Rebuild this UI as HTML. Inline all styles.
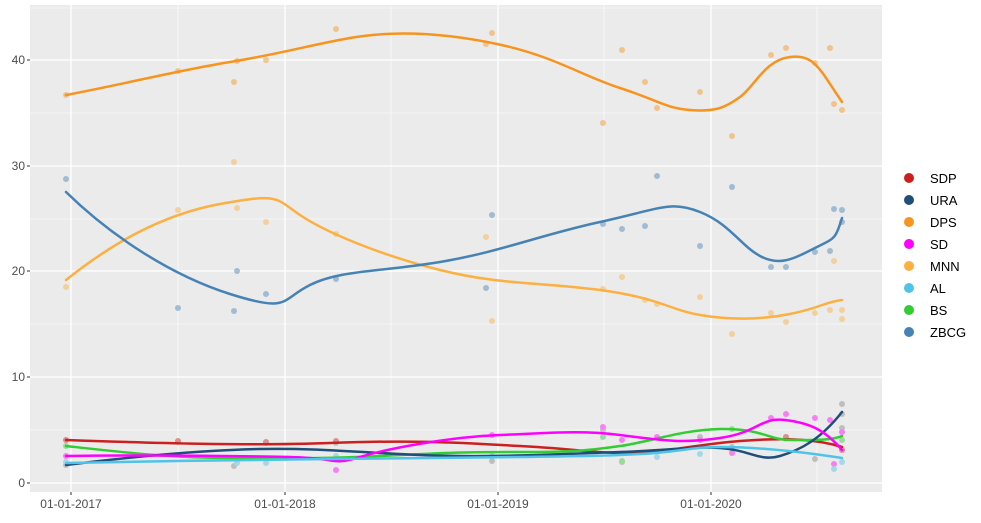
<!DOCTYPE html>
<html><head><style>body{margin:0;background:#fff;font-family:"Liberation Sans",sans-serif}</style></head><body>
<svg width="981" height="518" xmlns="http://www.w3.org/2000/svg" font-family="Liberation Sans, sans-serif">
<rect x="30" y="5" width="852" height="487" fill="#ebebeb"/>
<g stroke="#fff" stroke-width="0.6">
<line x1="30" x2="882" y1="430" y2="430"/><line x1="30" x2="882" y1="324" y2="324"/><line x1="30" x2="882" y1="219" y2="219"/><line x1="30" x2="882" y1="113" y2="113"/><line x1="30" x2="882" y1="8" y2="8"/>
<line y1="5" y2="492" x1="178" x2="178"/><line y1="5" y2="492" x1="391" x2="391"/><line y1="5" y2="492" x1="604" x2="604"/><line y1="5" y2="492" x1="817" x2="817"/>
</g>
<g stroke="#fff" stroke-width="1.3">
<line x1="30" x2="882" y1="483" y2="483"/><line x1="30" x2="882" y1="377" y2="377"/><line x1="30" x2="882" y1="271" y2="271"/><line x1="30" x2="882" y1="166" y2="166"/><line x1="30" x2="882" y1="60" y2="60"/>
<line y1="5" y2="492" x1="71" x2="71"/><line y1="5" y2="492" x1="285" x2="285"/><line y1="5" y2="492" x1="498" x2="498"/><line y1="5" y2="492" x1="711" x2="711"/>
</g>
<g font-size="12" fill="#4d4d4d" text-anchor="end">
<text x="25" y="487">0</text><text x="25" y="381">10</text><text x="25" y="275">20</text><text x="25" y="170">30</text><text x="25" y="64">40</text>
</g>
<g font-size="12" fill="#4d4d4d" text-anchor="middle">
<text x="71" y="508">01-01-2017</text><text x="285" y="508">01-01-2018</text><text x="498" y="508">01-01-2019</text><text x="711" y="508">01-01-2020</text>
</g>
<g stroke="#333" stroke-width="1"><line x1="27" x2="30" y1="483" y2="483"/><line x1="27" x2="30" y1="377" y2="377"/><line x1="27" x2="30" y1="271" y2="271"/><line x1="27" x2="30" y1="166" y2="166"/><line x1="27" x2="30" y1="60" y2="60"/>
<line y1="492" y2="495" x1="71" x2="71"/><line y1="492" y2="495" x1="285" x2="285"/><line y1="492" y2="495" x1="498" x2="498"/><line y1="492" y2="495" x1="711" x2="711"/></g>
<g opacity="0.45">
<g fill="#f7941d"><circle cx="66" cy="95" r="3"/><circle cx="178" cy="71" r="3"/><circle cx="234" cy="82" r="3"/><circle cx="237" cy="61" r="3"/><circle cx="266" cy="60" r="3"/><circle cx="336" cy="29" r="3"/><circle cx="486" cy="44" r="3"/><circle cx="492" cy="33" r="3"/><circle cx="603" cy="123" r="3"/><circle cx="622" cy="50" r="3"/><circle cx="645" cy="82" r="3"/><circle cx="657" cy="108" r="3"/><circle cx="700" cy="92" r="3"/><circle cx="732" cy="136" r="3"/><circle cx="771" cy="55" r="3"/><circle cx="786" cy="48" r="3"/><circle cx="815" cy="63" r="3"/><circle cx="830" cy="48" r="3"/><circle cx="834" cy="104" r="3"/><circle cx="842" cy="110" r="3"/></g>
<g fill="#fbb040"><circle cx="66" cy="287" r="3"/><circle cx="178" cy="210" r="3"/><circle cx="234" cy="162" r="3"/><circle cx="237" cy="208" r="3"/><circle cx="266" cy="222" r="3"/><circle cx="336" cy="234" r="3"/><circle cx="486" cy="237" r="3"/><circle cx="492" cy="321" r="3"/><circle cx="603" cy="289" r="3"/><circle cx="622" cy="277" r="3"/><circle cx="645" cy="300" r="3"/><circle cx="657" cy="304" r="3"/><circle cx="700" cy="297" r="3"/><circle cx="732" cy="334" r="3"/><circle cx="771" cy="313" r="3"/><circle cx="786" cy="322" r="3"/><circle cx="815" cy="313" r="3"/><circle cx="830" cy="310" r="3"/><circle cx="834" cy="261" r="3"/><circle cx="842" cy="310" r="3"/><circle cx="842" cy="319" r="3"/></g>
<g fill="#4682b4"><circle cx="66" cy="179" r="3"/><circle cx="178" cy="308" r="3"/><circle cx="234" cy="311" r="3"/><circle cx="237" cy="271" r="3"/><circle cx="266" cy="294" r="3"/><circle cx="336" cy="279" r="3"/><circle cx="486" cy="288" r="3"/><circle cx="492" cy="215" r="3"/><circle cx="603" cy="224" r="3"/><circle cx="622" cy="229" r="3"/><circle cx="645" cy="226" r="3"/><circle cx="657" cy="176" r="3"/><circle cx="700" cy="246" r="3"/><circle cx="732" cy="187" r="3"/><circle cx="771" cy="267" r="3"/><circle cx="786" cy="267" r="3"/><circle cx="815" cy="252" r="3"/><circle cx="830" cy="251" r="3"/><circle cx="834" cy="209" r="3"/><circle cx="842" cy="222" r="3"/><circle cx="842" cy="210" r="3"/></g>
<g fill="#888"><circle cx="66" cy="440" r="3"/><circle cx="66" cy="465" r="3"/><circle cx="178" cy="442" r="3"/><circle cx="234" cy="466" r="3"/><circle cx="266" cy="443" r="3"/><circle cx="336" cy="443" r="3"/><circle cx="492" cy="461" r="3"/><circle cx="603" cy="430" r="3"/><circle cx="622" cy="462" r="3"/><circle cx="700" cy="437" r="3"/><circle cx="732" cy="447" r="3"/><circle cx="786" cy="437" r="3"/><circle cx="815" cy="459" r="3"/><circle cx="842" cy="404" r="3"/><circle cx="842" cy="414" r="3"/><circle cx="842" cy="428" r="3"/></g>
<g fill="#ff00ff"><circle cx="66" cy="456" r="3"/><circle cx="336" cy="470" r="3"/><circle cx="492" cy="435" r="3"/><circle cx="603" cy="427" r="3"/><circle cx="622" cy="440" r="3"/><circle cx="657" cy="437" r="3"/><circle cx="700" cy="440" r="3"/><circle cx="732" cy="453" r="3"/><circle cx="771" cy="418" r="3"/><circle cx="786" cy="414" r="3"/><circle cx="815" cy="418" r="3"/><circle cx="830" cy="420" r="3"/><circle cx="834" cy="464" r="3"/><circle cx="842" cy="432" r="3"/></g>
<g fill="#4fc3e8"><circle cx="66" cy="462" r="3"/><circle cx="237" cy="463" r="3"/><circle cx="266" cy="463" r="3"/><circle cx="336" cy="456" r="3"/><circle cx="492" cy="456" r="3"/><circle cx="657" cy="457" r="3"/><circle cx="700" cy="454" r="3"/><circle cx="834" cy="469" r="3"/><circle cx="842" cy="462" r="3"/></g>
<g fill="#32cd32"><circle cx="66" cy="446" r="3"/><circle cx="603" cy="437" r="3"/><circle cx="622" cy="461" r="3"/><circle cx="732" cy="429" r="3"/><circle cx="842" cy="440" r="3"/></g>
<g fill="#cc1f1f"><circle cx="66" cy="440" r="3"/><circle cx="178" cy="441" r="3"/><circle cx="266" cy="442" r="3"/><circle cx="336" cy="441" r="3"/><circle cx="786" cy="437" r="3"/><circle cx="842" cy="450" r="3"/></g>
</g>
<g fill="none" stroke-width="2.5" stroke-linejoin="round" stroke-linecap="round">
<path stroke="#f7941d" d="M66,95 C120,85 180,70 230,62 S310,45 350,38 S440,32 497,44 S580,75 620,88 S665,108 690,110 S725,108 740,97 S765,60 790,57 S820,70 842,102"/>
<path stroke="#fbb040" d="M66,280 C110,245 160,215 220,204 S275,198 300,215 S380,255 440,270 S540,282 600,290 S670,310 700,315 S760,320 790,314 S825,302 842,300"/>
<path stroke="#4682b4" d="M66,192 C110,235 170,275 230,294 S280,300 310,285 S380,272 440,262 S540,235 600,222 S670,200 700,212 S740,245 760,256 S795,258 815,248 S835,240 842,218"/>
<path stroke="#cc1f1f" d="M66,440 C150,443 250,446 330,443 S450,442 520,446 S580,452 620,453 S690,445 740,441 S820,440 842,447"/>
<path stroke="#32cd32" d="M66,446 C120,452 170,458 230,458 S320,459 380,456 S460,452 520,452 S590,450 620,446 S680,430 720,429 S770,440 790,440 S830,441 842,436"/>
<path stroke="#1f4e79" d="M66,465 C120,458 200,450 260,449 S350,452 420,455 S560,454 620,452 S690,446 720,448 S760,462 780,456 S820,440 842,412"/>
<path stroke="#ff00ff" d="M66,456 C150,455 240,456 290,457 S330,466 360,457 S450,437 500,435 S580,430 620,435 S680,444 720,438 S760,417 785,420 S825,430 842,450"/>
<path stroke="#4fc3e8" d="M66,463 C150,461 250,460 330,459 S450,458 520,457 S600,456 640,454 S690,447 720,447 S790,450 842,458"/>
</g>
<g font-size="13" fill="#000">
<circle cx="909" cy="178" r="5" fill="#cc1f1f"/><text x="930" y="183">SDP</text>
<circle cx="909" cy="200" r="5" fill="#1f4e79"/><text x="930" y="205">URA</text>
<circle cx="909" cy="222" r="5" fill="#f7941d"/><text x="930" y="227">DPS</text>
<circle cx="909" cy="244" r="5" fill="#ff00ff"/><text x="930" y="249">SD</text>
<circle cx="909" cy="266" r="5" fill="#fbb040"/><text x="930" y="271">MNN</text>
<circle cx="909" cy="288" r="5" fill="#4fc3e8"/><text x="930" y="293">AL</text>
<circle cx="909" cy="310" r="5" fill="#32cd32"/><text x="930" y="315">BS</text>
<circle cx="909" cy="332" r="5" fill="#4682b4"/><text x="930" y="337">ZBCG</text>
</g>
</svg>
</body></html>
